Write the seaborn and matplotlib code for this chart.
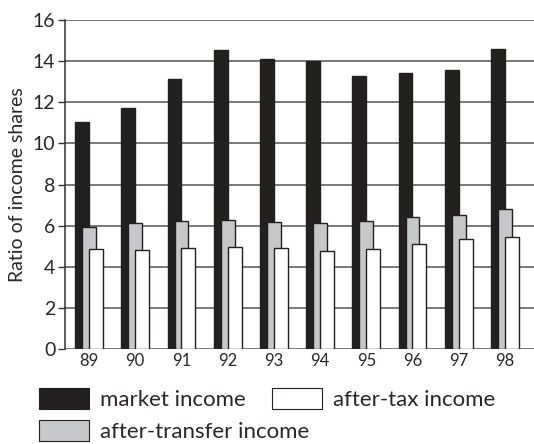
import numpy as np
import pandas as pd
import matplotlib.pyplot as plt
import seaborn as sns
from matplotlib.patches import Patch

years = ["89", "90", "91", "92", "93", "94", "95", "96", "97", "98"]
market = [11.03, 11.74, 13.15, 14.53, 14.12, 14.0, 13.29, 13.42, 13.59, 14.58]
after_transfer = [5.92, 6.11, 6.21, 6.27, 6.18, 6.14, 6.24, 6.40, 6.52, 6.79]
after_tax = [4.86, 4.83, 4.90, 4.95, 4.90, 4.78, 4.85, 5.11, 5.33, 5.46]

series = ["market income", "after-transfer income", "after-tax income"]
colors = ["#231f20", "#c6c7c8", "#ffffff"]

df = pd.DataFrame({
    "year": years * 3,
    "value": market + after_transfer + after_tax,
    "series": np.repeat(series, len(years)),
})

sns.set_style("white")
plt.rcParams["font.family"] = ["Lato", "DejaVu Sans"]
text_col = "#2a2627"

fig = plt.figure(figsize=(5.34, 4.44), dpi=100)
ax = fig.add_axes([65 / 534, 1 - 349 / 444, 1 - 65 / 534, (349 - 20) / 444])

sns.barplot(data=df, x="year", y="value", hue="series", hue_order=series,
            palette=colors, width=0.45, dodge=True, legend=False, ax=ax,
            edgecolor="#231f20", linewidth=1.0, errorbar=None)

# widen bars so they overlap by half, later series on top
for i, cont in enumerate(ax.containers):
    for p in cont.patches:
        c = p.get_x() + p.get_width() / 2
        p.set_width(0.30)
        p.set_x(c - 0.15)
        p.set_zorder(3 + i)

ax.set_ylim(0, 16)
ax.set_xlim(-0.52, 9.63)
ax.set_yticks(range(0, 17, 2))
ax.yaxis.grid(True, color="#555555", linewidth=1.1)
ax.set_axisbelow(True)
for s in ["top", "right", "bottom"]:
    ax.spines[s].set_visible(False)
ax.spines["left"].set_color("#333333")
ax.spines["left"].set_linewidth(1.1)
ax.tick_params(axis="y", length=5, width=1.0, color="#333333", labelsize=14,
               labelcolor=text_col, pad=2, left=True)
ax.tick_params(axis="x", length=0, labelsize=12, labelcolor=text_col, pad=3)
ax.set_xlabel("")
ax.set_ylabel("Ratio of income shares", fontsize=14, color=text_col, labelpad=5)

handles = [Patch(facecolor=colors[i], edgecolor="#231f20", linewidth=0.8, label=series[i])
           for i in range(3)]
leg_kw = dict(loc="upper left", frameon=False, fontsize=16, handlelength=2.25,
              handleheight=1.05, labelspacing=0.45, handletextpad=0.5,
              labelcolor=text_col, borderpad=0, borderaxespad=0)
fig.legend(handles=[handles[0], handles[1]], bbox_to_anchor=(39 / 534, 1 - 388 / 444), **leg_kw)
fig.legend(handles=[handles[2]], bbox_to_anchor=(272 / 534, 1 - 388 / 444), **leg_kw)

fig.savefig("out.png", dpi=100)
